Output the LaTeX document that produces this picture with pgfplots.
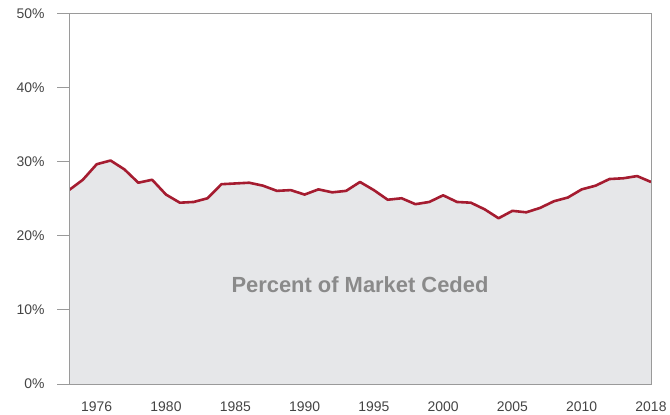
\documentclass[border=0pt]{standalone}
\usepackage{pgfplots}
\pgfplotsset{compat=1.18}
\usepackage{fontspec}
\setmainfont{Liberation Sans}
\definecolor{areagray}{HTML}{E6E7E9}
\definecolor{linered}{HTML}{A51C30}
\definecolor{axisgray}{HTML}{9A9A9A}
\definecolor{labelgray}{HTML}{444444}
\definecolor{textgray}{HTML}{8A8A8A}
\pgfplotstableread{
year val
1976 26.2
1977 27.6
1978 29.7
1979 30.2
1980 29.0
1981 27.2
1982 27.6
1983 25.6
1984 24.5
1985 24.6
1986 25.1
1987 27.0
1988 27.1
1989 27.2
1990 26.8
1991 26.1
1992 26.2
1993 25.6
1994 26.3
1995 25.9
1996 26.1
1997 27.3
1998 26.2
1999 24.9
2000 25.1
2001 24.3
2002 24.6
2003 25.5
2004 24.6
2005 24.5
2006 23.6
2007 22.4
2008 23.4
2009 23.2
2010 23.8
2011 24.7
2012 25.2
2013 26.3
2014 26.8
2015 27.7
2016 27.8
2017 28.1
2018 27.3
}\datatable
\begin{document}
\begin{tikzpicture}
\path[use as bounding box] (0,0) rectangle (670bp,415bp);
\begin{axis}[
  at={(69bp,31bp)}, anchor=south west,
  scale only axis, width=582bp, height=370bp,
  xmin=1976, xmax=2018, ymin=0, ymax=50,
  xtick={1978,1983,...,2018},
  xticklabels={1976,1980,1985,1990,1995,2000,2005,2010,2018},
  ytick={0,10,...,50},
  ytick pos=left,
  yticklabel={\pgfmathprintnumber{\tick}\%},
  axis line style={draw=axisgray, line width=1bp},
  tick style={draw=axisgray, line width=1bp},
  xtick style={draw=none},
  tick align=outside, major tick length=12bp,
  tick label style={font=\fontsize{14}{16}\selectfont, text=labelgray},
  yticklabel style={xshift=-9bp},
  xticklabel style={yshift=-2bp},
  /pgf/number format/assume math mode=true,
  axis on top,
]
\addplot[fill=areagray, draw=none] table[x=year, y=val] {\datatable} \closedcycle;
\addplot[linered, line width=2.6bp, line join=round] table[x=year, y=val] {\datatable};
\node[font=\fontsize{22}{22}\selectfont\bfseries, text=textgray] at (axis cs:1997,13.4) {Percent of Market Ceded};
\end{axis}
\end{tikzpicture}
\end{document}
